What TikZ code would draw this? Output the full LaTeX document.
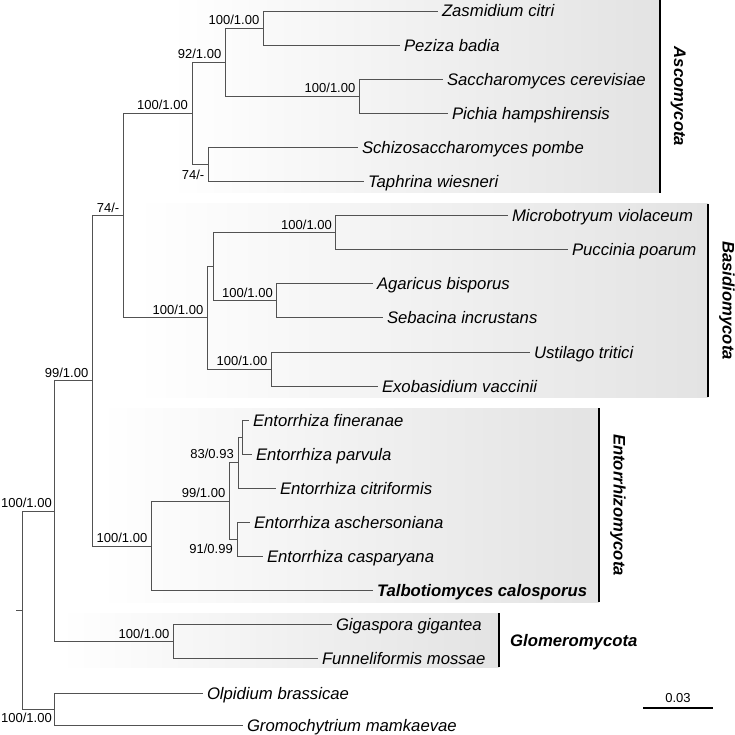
\documentclass[tikz,border=0pt]{standalone}
\usepackage{fontspec}
\setmainfont{Liberation Sans}
\usetikzlibrary{calc}
\begin{document}
\begin{tikzpicture}[x=1pt,y=-1pt,
 br/.style={draw=black!68, line width=0.9pt},
 taxon/.style={font=\fontsize{16.7}{20}\selectfont\itshape, anchor=west, inner xsep=4pt, inner ysep=0pt, text height=12pt, text depth=0pt, outer sep=0pt},
 boldtaxon/.style={taxon, font=\fontsize{16.7}{20}\selectfont\bfseries\itshape},
 sup/.style={font=\fontsize{13}{15}\selectfont, inner sep=0pt},
 clade/.style={font=\fontsize{16.7}{20}\selectfont\bfseries\itshape, inner sep=0pt, text height=12pt, text depth=0pt},
 cladebar/.style={draw=black, line width=1.4pt},
 scalebar/.style={draw=black, line width=1.2pt},
 cladebox/.style={left color=white, right color=black!11, draw=none}]
\useasboundingbox (0,0) rectangle (735,735);
% clade boxes
\shade[cladebox] (170,0) rectangle (660,193);
\shade[cladebox] (135,204) rectangle (708,397);
\shade[cladebox] (100,408) rectangle (599,602);
\shade[cladebox] (60,613) rectangle (499,667);
% leaves
\node[taxon] (L1) at (438,11) {Zasmidium citri};
\node[taxon] (L2) at (400,45.1) {Peziza badia};
\node[taxon] (L3) at (443,79.2) {Saccharomyces cerevisiae};
\node[taxon] (L4) at (448,113.3) {Pichia hampshirensis};
\node[taxon] (L5) at (358,147.4) {Schizosaccharomyces pombe};
\node[taxon] (L6) at (364,181.5) {Taphrina wiesneri};
\node[taxon] (L7) at (508,215.6) {Microbotryum violaceum};
\node[taxon] (L8) at (568,249.7) {Puccinia poarum};
\node[taxon] (L9) at (373,283.8) {Agaricus bisporus};
\node[taxon] (L10) at (383,317.9) {Sebacina incrustans};
\node[taxon] (L11) at (530,352) {Ustilago tritici};
\node[taxon] (L12) at (378,386.1) {Exobasidium vaccinii};
\node[taxon] (L13) at (249,420.2) {Entorrhiza fineranae};
\node[taxon] (L14) at (252,454.3) {Entorrhiza parvula};
\node[taxon] (L15) at (276,488.4) {Entorrhiza citriformis};
\node[taxon] (L16) at (250,522.5) {Entorrhiza aschersoniana};
\node[taxon] (L17) at (263,556.6) {Entorrhiza casparyana};
\node[boldtaxon] (L18) at (373,590.7) {Talbotiomyces calosporus};
\node[taxon] (L19) at (332,624.8) {Gigaspora gigantea};
\node[taxon] (L20) at (318,658.9) {Funneliformis mossae};
\node[taxon] (L21) at (203,693) {Olpidium brassicae};
\node[taxon] (L22) at (243,725.5) {Gromochytrium mamkaevae};
% internal nodes
\coordinate (nZP) at (263,28);
\coordinate (nSP) at (359,96.2);
\coordinate (n92) at (225,62.1);
\coordinate (nST) at (208,164.4);
\coordinate (nAsco) at (192,113.3);
\coordinate (nMP) at (335,232.6);
\coordinate (nAS) at (276,300.8);
\coordinate (nMPAS) at (213,266.7);
\coordinate (nUE) at (271,369);
\coordinate (nBas) at (207,317.9);
\coordinate (n74) at (123,215.6);
\coordinate (nFP) at (242,437.2);
\coordinate (nFPC) at (238,462.8);
\coordinate (nAC) at (237,539.5);
\coordinate (n99E) at (229,501.2);
\coordinate (nEnt) at (151,546);
\coordinate (n99) at (92,380.8);
\coordinate (nGl) at (173,641.8);
\coordinate (nTop) at (54,511.3);
\coordinate (nOG) at (54,709.2);
\coordinate (nR) at (22,610.3);
\coordinate (nRt) at (16,610.3);
% branches
\draw[br] (nZP) |- (L1.west); \draw[br] (nZP) |- (L2.west);
\draw[br] (nSP) |- (L3.west); \draw[br] (nSP) |- (L4.west);
\draw[br] (n92) |- (nZP); \draw[br] (n92) |- (nSP);
\draw[br] (nST) |- (L5.west); \draw[br] (nST) |- (L6.west);
\draw[br] (nAsco) |- (n92); \draw[br] (nAsco) |- (nST);
\draw[br] (nMP) |- (L7.west); \draw[br] (nMP) |- (L8.west);
\draw[br] (nAS) |- (L9.west); \draw[br] (nAS) |- (L10.west);
\draw[br] (nMPAS) |- (nMP); \draw[br] (nMPAS) |- (nAS);
\draw[br] (nUE) |- (L11.west); \draw[br] (nUE) |- (L12.west);
\draw[br] (nBas) |- (nMPAS); \draw[br] (nBas) |- (nUE);
\draw[br] (n74) |- (nAsco); \draw[br] (n74) |- (nBas);
\draw[br] (nFP) |- (L13.west); \draw[br] (nFP) |- (L14.west);
\draw[br] (nFPC) |- (nFP); \draw[br] (nFPC) |- (L15.west);
\draw[br] (nAC) |- (L16.west); \draw[br] (nAC) |- (L17.west);
\draw[br] (n99E) |- (nFPC); \draw[br] (n99E) |- (nAC);
\draw[br] (nEnt) |- (n99E); \draw[br] (nEnt) |- (L18.west);
\draw[br] (n99) |- (n74); \draw[br] (n99) |- (nEnt);
\draw[br] (nGl) |- (L19.west); \draw[br] (nGl) |- (L20.west);
\draw[br] (nTop) |- (n99); \draw[br] (nTop) |- (nGl);
\draw[br] (nOG) |- (L21.west); \draw[br] (nOG) |- (L22.west);
\draw[br] (nR) |- (nTop); \draw[br] (nR) |- (nOG);
\draw[br] (nRt) -- (nR);
% support values
\node[sup, anchor=base east] (s1) at ($(nZP)+(-3.5,-3.5)$) {100/1.00};
\node[sup, anchor=base east] (s2) at ($(n92)+(-3.5,-3.5)$) {92/1.00};
\node[sup, anchor=base east] (s3) at ($(nSP)+(-3.5,-3.5)$) {100/1.00};
\node[sup, anchor=base east] (s4) at ($(nAsco)+(-4,-3.5)$) {100/1.00};
\node[sup, anchor=base east] (s5) at ($(nST)+(-3.5,14.7)$) {74/-};
\node[sup, anchor=base east] (s6) at ($(n74)+(-3.5,-3.5)$) {74/-};
\node[sup, anchor=base east] (s7) at ($(nMP)+(-3,-3.5)$) {100/1.00};
\node[sup, anchor=base east] (s8) at ($(nAS)+(-3,-3.5)$) {100/1.00};
\node[sup, anchor=base east] (s9) at ($(nBas)+(-3.5,-3.5)$) {100/1.00};
\node[sup, anchor=base east] (s10) at ($(nUE)+(-3.5,-3.5)$) {100/1.00};
\node[sup, anchor=base east] (s11) at ($(n99)+(-3.5,-3.5)$) {99/1.00};
\node[sup, anchor=base east] (s12) at (234,458.7) {83/0.93};
\node[sup, anchor=base east] (s13) at ($(n99E)+(-3.5,-3.5)$) {99/1.00};
\node[sup, anchor=base east] (s14) at ($(nAC)+(-4,14.2)$) {91/0.99};
\node[sup, anchor=base east] (s15) at ($(nEnt)+(-3.5,-3.5)$) {100/1.00};
\node[sup, anchor=base east] (s16) at ($(nTop)+(-2,-3.5)$) {100/1.00};
\node[sup, anchor=base east] (s17) at ($(nGl)+(-3.5,-3.5)$) {100/1.00};
\node[sup, anchor=base east] (s18) at ($(nOG)+(-2,13.7)$) {100/1.00};
% clade bars and labels
\draw[cladebar] (660,0) -- (660,193);
\draw[cladebar] (708,204) -- (708,397);
\draw[cladebar] (599,408) -- (599,602);
\draw[cladebar] (499,613) -- (499,667);
\node[clade, rotate=-90] (cA) at (680,96.5) {Ascomycota};
\node[clade, rotate=-90] (cB) at (728.5,300.5) {Basidiomycota};
\node[clade, rotate=-90] (cE) at (619.5,505) {Entorrhizomycota};
\node[clade, anchor=west] (cG) at (510,640) {Glomeromycota};
% scale bar
\coordinate (sb1) at (643,708);
\coordinate (sb2) at (713,708);
\draw[scalebar] (sb1) -- (sb2);
\node[sup, anchor=base] (sbl) at (678,702.7) {0.03};
\end{tikzpicture}
\end{document}
